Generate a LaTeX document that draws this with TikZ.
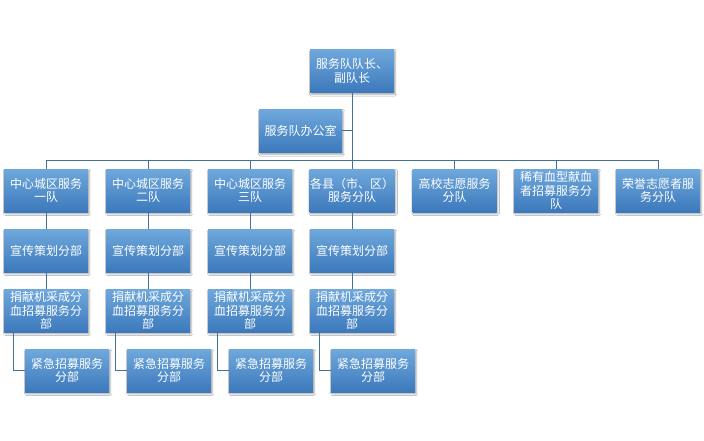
\documentclass[tikz,border=0pt]{standalone}
\usepackage{fontspec}
\newfontfamily\cjk{Noto Sans CJK SC}
\usetikzlibrary{shadows.blur}
\definecolor{boxtop}{HTML}{6FA8DC}
\definecolor{boxbot}{HTML}{3C79BC}
\definecolor{linec}{HTML}{44709C}
\tikzset{
  orgbox/.style={top color=boxtop, bottom color=boxbot, draw=none,
    minimum width=84pt, minimum height=43pt, inner sep=0.5pt, align=center,
    text=white, font=\cjk\fontsize{12}{13.4}\selectfont,
    blur shadow={shadow xshift=1.2pt, shadow yshift=-1.8pt, shadow blur steps=4, shadow opacity=35}},
  conn/.style={draw=linec, line width=1pt}
}
\begin{document}
\begin{tikzpicture}[x=1pt,y=-1pt]
\useasboundingbox[fill=white] (0,0) rectangle (704,441);
% top
\node[orgbox] (top) at (352,71) {服务队队长、\\副队长};
\node[orgbox, minimum width=83pt] (off) at (300.5,131) {服务队办公室};
\coordinate (bus) at (352,160);
% level 2
\node[orgbox] (a1) at (46,190.5) {中心城区服务\\一队};
\node[orgbox] (b1) at (148,190.5) {中心城区服务\\二队};
\node[orgbox] (c1) at (250,190.5) {中心城区服务\\三队};
\node[orgbox] (d1) at (352,190.5) {各县（市、区）\\服务分队};
\node[orgbox] (e1) at (454.5,190.5) {高校志愿服务\\分队};
\node[orgbox] (f1) at (556,190.5) {稀有血型献血\\者招募服务分\\队};
\node[orgbox] (g1) at (658,190.5) {荣誉志愿者服\\务分队};
% columns
\foreach \n/\x in {a/46,b/148,c/250,d/352}{
  \node[orgbox] (\n2) at (\x,250.5) {宣传策划分部};
  \node[orgbox] (\n3) at (\x,310.5) {捐献机采成分\\血招募服务分\\部};
  \node[orgbox] (\n4) at (\x+21,370.5) {紧急招募服务\\分部};
}
% connectors
\draw[conn] (top.south) -- (bus);
\draw[conn] (off.east) -- (off.east -| top.south);
\foreach \n in {a1,b1,c1,d1,e1,f1,g1}{
  \draw[conn] (\n.north) |- (bus);
}
\foreach \n in {a,b,c,d}{
  \draw[conn] (\n1.south) -- (\n2.north);
  \draw[conn] (\n2.south) -- (\n3.north);
  \draw[conn] ([xshift=-33pt]\n3.south) |- (\n4.west);
}
\end{tikzpicture}
\end{document}
